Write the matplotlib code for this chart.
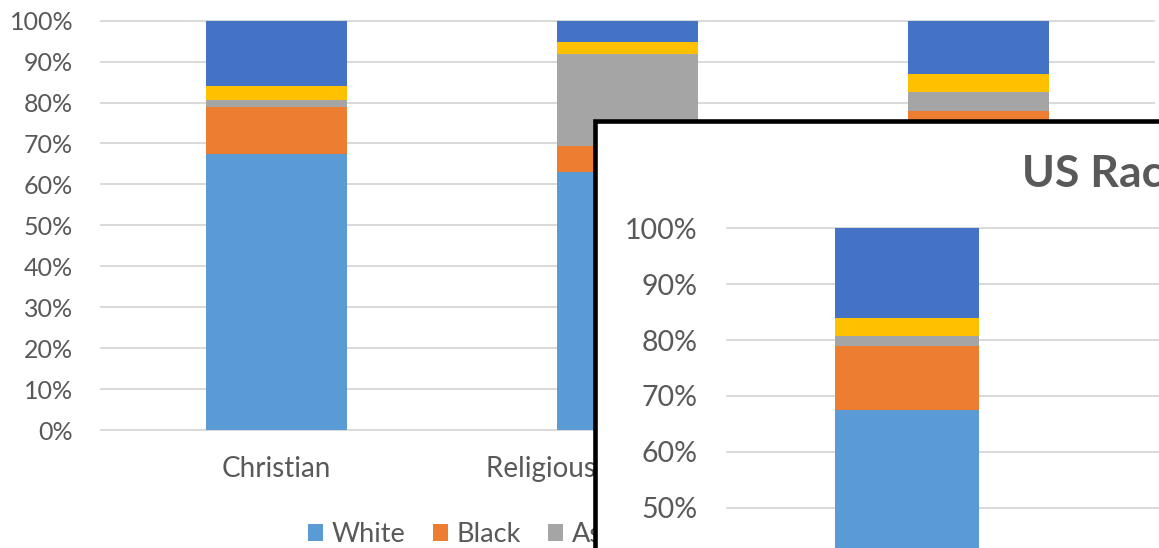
import numpy as np
import matplotlib
matplotlib.use("Agg")
import matplotlib.pyplot as plt
from matplotlib.patches import Rectangle

# Data (percent of each group)
categories = ["Christian", "Religious non-Christian", "Unaffiliated"]
series_names = ["White", "Black", "Asian", "Other/Mixed", "Latino"]
white = [67.5, 63.1, 68.5]
black = [11.5, 6.3, 9.4]
asian = [1.7, 22.5, 4.8]
other = [3.3, 3.0, 4.3]
latino = [16.0, 5.1, 13.0]
series_vals = [white, black, asian, other, latino]
colors = ["#5B9BD5", "#ED7D31", "#A5A5A5", "#FFC000", "#4472C4"]
y_ticks = list(range(0, 101, 10))
title = "US Racial Composition by Religious Group"

plt.rcParams["font.family"] = ["Lato", "DejaVu Sans"]
TXT = "#595959"
GRID = "#D9D9D9"

W, H = 1159, 548
fig = plt.figure(figsize=(W / 100, H / 100), dpi=100)
fig.patch.set_facecolor("white")


def px(x0, y0, x1, y1):
    # pixel box (top-left origin) -> figure fraction rect
    return [x0 / W, 1 - y1 / H, (x1 - x0) / W, (y1 - y0) / H]


def draw_chart(ax, tick_size, ypad, cat_size, cat_pad):
    x = np.arange(len(categories))
    bottom = np.zeros(len(categories))
    for name, vals, col in zip(series_names, series_vals, colors):
        vals = np.array(vals)
        ax.bar(x, vals, 0.4, bottom=bottom, color=col, label=name, zorder=2)
        bottom += vals
    ax.set_xlim(-0.5, len(categories) - 0.5)
    ax.set_ylim(0, 100)
    ax.set_yticks(y_ticks)
    ax.set_yticklabels([f"{t}%" for t in y_ticks])
    ax.set_xticks(x)
    ax.set_xticklabels(categories)
    ax.tick_params(axis="y", length=0, pad=ypad, labelsize=tick_size, labelcolor=TXT)
    ax.tick_params(axis="x", length=0, pad=cat_pad, labelsize=cat_size, labelcolor=TXT)
    for s in ax.spines.values():
        s.set_visible(False)
    ax.grid(axis="y", color=GRID, lw=1.4, zorder=0)
    ax.set_axisbelow(True)
    for gl in ax.get_ygridlines():
        gl.set_clip_on(False)
    ax.patch.set_alpha(0)


# main chart
ax = fig.add_axes(px(101, 20.7, 1154, 430))
draw_chart(ax, 18, 20, 20, 18.5)
ax.legend(loc="center left", bbox_to_anchor=(308 / W, 1 - 534.5 / H),
          bbox_transform=fig.transFigure, ncol=5, frameon=False,
          fontsize=19.5, labelcolor=TXT, borderpad=0, borderaxespad=0,
          handlelength=0.55, handleheight=0.55, handletextpad=0.33,
          columnspacing=1.0)

# zoomed copy of the chart laid on top
box = Rectangle((595.2 / W, -0.5), 1.0, (1 - 120.7 / H) + 0.5,
                transform=fig.transFigure, facecolor="white",
                edgecolor="black", lw=3.3, zorder=1)
fig.add_artist(box)

ax2 = fig.add_axes(px(727.3, 228.3, 727.3 + 1080, 787.3))
ax2.set_zorder(2)
draw_chart(ax2, 20.5, 21.6, 21, 21)

fig.text(1022 / W, 1 - 186.5 / H, title, fontsize=32, fontweight="bold",
         color=TXT, ha="left", va="baseline", zorder=3)

fig.savefig("out.png", dpi=100)
